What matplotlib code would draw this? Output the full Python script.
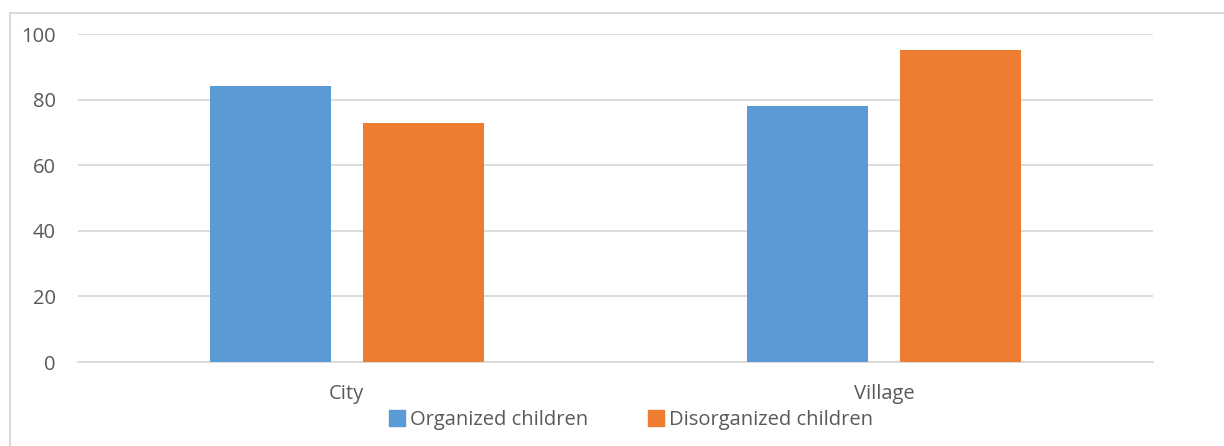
import matplotlib
matplotlib.use("Agg")
import matplotlib.pyplot as plt
from matplotlib.lines import Line2D
from matplotlib.patches import Rectangle
import numpy as np

categories = ["City", "Village"]
organized = [84, 78]
disorganized = [73, 95]
series_names = ["Organized children", "Disorganized children"]
yticks = [0, 20, 40, 60, 80, 100]

plt.rcParams['font.family'] = ['Open Sans', 'DejaVu Sans']

W, H = 1224, 446
fig = plt.figure(figsize=(W / 100, H / 100), dpi=100)
ax = fig.add_axes([78 / W, 1 - 362 / H, (1153 - 78) / W, (362 - 34) / H])

blue = "#5B9BD5"
orange = "#ED7D31"
x = np.arange(len(categories))
bw = 0.225
off = 0.1425
ax.bar(x - off, organized, width=bw, color=blue, zorder=3)
ax.bar(x + off, disorganized, width=bw, color=orange, zorder=3)

ax.set_xlim(-0.5, len(categories) - 0.5)
ax.set_ylim(0, 100)
ax.set_yticks(yticks)
ax.set_xticks(x)
ax.set_xticklabels(categories)
ax.yaxis.grid(True, color="#d9d9d9", linewidth=1.3, zorder=0)
ax.set_axisbelow(True)
for s in ["top", "right", "left"]:
    ax.spines[s].set_visible(False)
ax.spines["bottom"].set_color("#d9d9d9")
ax.spines["bottom"].set_linewidth(1.3)
ax.tick_params(axis="both", length=0, labelsize=14.5, colors="#595959")
ax.tick_params(axis="y", pad=16)
ax.tick_params(axis="x", pad=16)

handles = [Line2D([], [], marker="s", linestyle="none", markersize=11, color=blue),
           Line2D([], [], marker="s", linestyle="none", markersize=11, color=orange)]
leg = fig.legend(handles, series_names, loc="center", bbox_to_anchor=(0.516, 1 - 420 / H),
                 ncol=2, frameon=False, fontsize=14.5, handlelength=0.7, handletextpad=0.3,
                 columnspacing=3.0, labelcolor="#595959")

fig.patches.append(Rectangle((10 / W, -0.1), 1.2, 1 - 13 / H + 0.1, transform=fig.transFigure,
                             fill=False, edgecolor="#d9d9d9", linewidth=1.5))

fig.savefig("out.png", dpi=100)
